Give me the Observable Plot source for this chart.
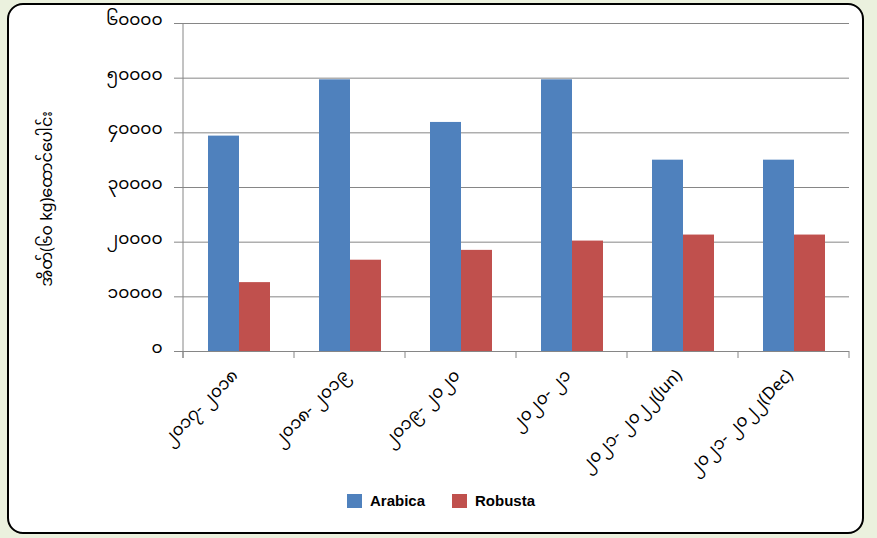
<!DOCTYPE html>
<html><head><meta charset="utf-8">
<script src="https://cdn.jsdelivr.net/npm/d3@7"></script>
<script src="https://cdn.jsdelivr.net/npm/@observablehq/plot@0.6"></script>
<style>
body{margin:0;background:#ebf1de;width:877px;height:538px;overflow:hidden;position:relative;font-family:"Noto Sans Myanmar","Liberation Sans",sans-serif}
#box{position:absolute;left:7px;top:3px;width:853px;height:527px;border:2.5px solid #000;border-radius:16px;background:#fff}
#chart{position:absolute;left:0;top:0}
#ytitle{position:absolute;left:48px;top:199px;transform:translate(-50%,-50%) rotate(-90deg);white-space:nowrap;font-size:16px;color:#000}
#legend{position:absolute;top:492px;left:347px;display:flex;align-items:center;font-family:"Liberation Sans",sans-serif;font-weight:bold;font-size:15px;color:#000}
#legend .sw{width:15px;height:14px;display:inline-block;margin-right:8px}
#legend .it{display:flex;align-items:center;margin-right:27px}
</style></head>
<body>
<div id="box"></div>
<div id="chart"></div>
<div id="ytitle">အိတ်(၆၀ kg)ထောင်ပေါင်း</div>
<div id="legend"></div>
<script>
const categories = ["၂၀၁၇- ၂၀၁၈","၂၀၁၈- ၂၀၁၉","၂၀၁၉- ၂၀၂၀","၂၀၂၀- ၂၁","၂၀၂၁- ၂၀၂၂(Jun)","၂၀၂၁- ၂၀၂၂(Dec)"];
const series = ["Arabica","Robusta"];
const arabica = [39400, 49700, 41900, 49700, 35000, 35000];
const robusta = [12600, 16700, 18500, 20200, 21300, 21300];
const yTicks = [0,10000,20000,30000,40000,50000,60000];
const yTickLabels = ["၀","၁၀၀၀၀","၂၀၀၀၀","၃၀၀၀၀","၄၀၀၀၀","၅၀၀၀၀","၆၀၀၀၀"];
const colors = ["#4f81bd","#c0504d"];

const rows = [];
categories.forEach((c,i)=>{
  rows.push({cat:c, series:"Arabica", value:arabica[i]});
  rows.push({cat:c, series:"Robusta", value:robusta[i]});
});

const chart = Plot.plot({
  width:877, height:538,
  marginLeft:181, marginRight:27, marginTop:23, marginBottom:187,
  style:{background:"transparent", fontSize:"17px", fontFamily:"'Noto Sans Myanmar','Liberation Sans',sans-serif", color:"#000"},
  fx:{domain:categories, padding:0, label:null},
  x:{domain:series, paddingInner:0, paddingOuter:0.75, axis:null},
  y:{domain:[0,60000], label:null},
  color:{domain:series, range:colors},
  marks:[
    Plot.gridY(yTicks, {stroke:"#868686", strokeOpacity:1}),
    Plot.axisY(yTicks, {tickSize:9, stroke:"#868686", text:null, label:null}),
    Plot.axisY(yTicks, {tickSize:0, tickPadding:21, fill:"#000", label:null, dy:-4, fontSize:17, tickFormat:d=>yTickLabels[yTicks.indexOf(d)]}),
    Plot.barY(rows, {fx:"cat", x:"series", y:"value", fill:"series"}),
    Plot.ruleY([0], {stroke:"#868686"}),
    Plot.axisFx({anchor:"bottom", tickSize:0, tickRotate:-45, tickPadding:21, dx:-4, fontSize:17, label:null, fill:"#000"})
  ]
});
document.getElementById("chart").appendChild(chart);

// axis line and category boundary ticks, from the plot's own scales
const fx = chart.scale("fx"), y = chart.scale("y");
const svg = d3.select(chart);
const g = svg.append("g").attr("stroke","#868686");
const y0 = y.apply(0), yTop = y.apply(60000);
const x0 = fx.apply(categories[0]);
g.append("line").attr("x1",x0).attr("x2",x0).attr("y1",yTop).attr("y2",y0+7);
const edges = categories.map(c=>fx.apply(c)).concat([fx.apply(categories[categories.length-1])+fx.bandwidth]);
edges.forEach(e=>g.append("line").attr("x1",e).attr("x2",e).attr("y1",y0).attr("y2",y0+7));

const lg = document.getElementById("legend");
series.forEach((s,i)=>{
  const it = document.createElement("div"); it.className="it";
  it.innerHTML = `<span class="sw" style="background:${colors[i]}"></span>${s}`;
  lg.appendChild(it);
});
</script>
</body></html>
